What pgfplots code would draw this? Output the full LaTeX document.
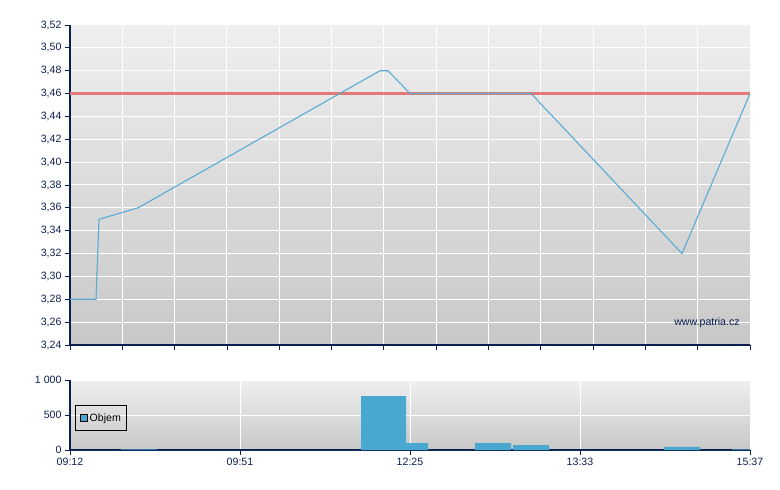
\documentclass[border=0pt]{standalone}
\usepackage{pgfplots}
\pgfplotsset{compat=1.18}
\usepackage{fontspec}
\setmainfont{Liberation Sans}
\definecolor{navy}{RGB}{10,30,80}
\definecolor{lineblue}{RGB}{90,172,212}
\definecolor{barblue}{RGB}{72,168,208}
\definecolor{refred}{RGB}{228,120,120}
\definecolor{bgtop}{RGB}{239,239,239}
\definecolor{bgbot}{RGB}{200,200,200}
\begin{document}
\begin{tikzpicture}[font=\fontsize{10.6}{12}\selectfont]
\path[use as bounding box] (-70pt,-145pt) rectangle (710pt,345pt);
\pgfplotsset{
  chartbase/.style={
    scale only axis,
    at={(0,0)}, anchor=south west,
    width=680pt,
    xmin=0, xmax=680,
    axis background/.style={top color=bgtop, bottom color=bgbot},
    grid=major,
    major grid style={white, line width=1pt},
    axis x line*=bottom, axis y line*=left,
    axis line style={navy, line width=1.2pt, -},
    tick style={navy, line width=0.8pt},
    tick align=outside,
    major tick length=5pt,
    ticklabel style={text=navy},
    /pgf/number format/assume math mode=true,
  }
}
\begin{axis}[chartbase,
  height=320pt,
  ymin=3.24, ymax=3.52,
  ytick={3.24,3.26,...,3.53},
  yticklabel style={/pgf/number format/.cd, fixed, fixed zerofill, precision=2, use comma},
  xtick={0,52.3077,104.6154,156.9231,209.2308,261.5385,313.8462,366.1538,418.4615,470.7692,523.0769,575.3846,627.6923,680},
  xticklabels={},
]
\addplot[fill=refred, draw=none, mark=none] coordinates {(0,3.4590)(680,3.4590)(680,3.4610)(0,3.4610)} -- cycle;
\addplot[lineblue, line width=1.1pt, mark=none] coordinates {
(0,3.28)(26,3.28)(29,3.35)(68,3.36)(310,3.48)(318,3.48)(340,3.4601)(461,3.4601)(612,3.32)(680,3.46)};
\node[anchor=east, text=navy] at (rel axis cs:0.99,0.069) {www.patria.cz};
\end{axis}
\begin{axis}[chartbase,
  at={(0,-105pt)},
  height=70pt,
  ymin=0, ymax=1000,
  ytick={0,500,1000},
  yticklabels={0,500,1 000},
  xtick={0,170,340,510,680},
  xticklabels={09:12,09:51,12:25,13:33,15:37},
  legend style={at={(0.008,0.64)}, anchor=north west, draw=black, fill=none, line width=0.8pt, text=black, font=\fontsize{10.6}{12}\selectfont, inner xsep=4pt, inner ysep=6pt},
  legend image code/.code={\draw[fill=barblue, draw=black, line width=0.8pt] (0pt,-3.5pt) rectangle (7pt,3.5pt);},
]
\addplot[const plot, fill=barblue, draw=none] coordinates {
(0,0)(51,10)(87,0)(291,771)(336,100)(358,0)(405,100)(441,0)(443,71)(479,0)(594,43)(630,0)(662,10)(680,10)} \closedcycle;
\addlegendentry{Objem\hspace{4pt}}
\end{axis}
\end{tikzpicture}
\end{document}
